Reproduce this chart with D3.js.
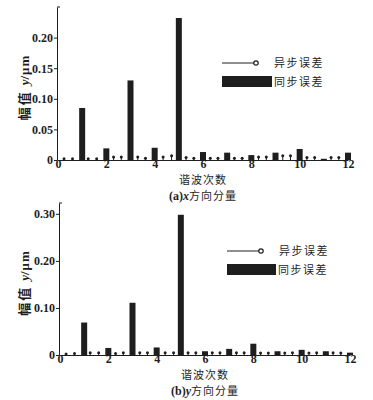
<!DOCTYPE html>
<html>
<head>
<meta charset="utf-8">
<script src="https://cdn.jsdelivr.net/npm/d3@7"></script>
<style>
  html, body { margin: 0; padding: 0; background: #fff; }
  svg { display: block; }
</style>
</head>
<body>
<svg id="chart" width="373" height="400"></svg>
<script>
// 谐波幅值：同步误差（整数次，柱）+ 异步误差（非整数次，火柴杆）

const harmonics = [1, 2, 3, 4, 5, 6, 7, 8, 9, 10, 11, 12];
const syncX = [0.085, 0.019, 0.130, 0.020, 0.232, 0.013, 0.012, 0.008, 0.012, 0.018, 0.002, 0.012];
const syncY = [0.069, 0.015, 0.111, 0.016, 0.298, 0.008, 0.013, 0.024, 0.008, 0.011, 0.008, 0.005];

const asyncOrders = [0.25, 0.6, 1.25, 1.6, 2.3, 2.62, 3.3, 3.62, 4.35, 4.7, 5.3, 5.62,
  6.3, 6.62, 7.3, 7.62, 8.3, 8.62, 9.3, 9.62, 10.3, 10.62, 11.3, 11.62];
const asyncX = [0.002, 0.002, 0.002, 0.002, 0.005, 0.005, 0.005, 0.003, 0.005, 0.007, 0.004, 0.003,
  0.003, 0.003, 0.003, 0.003, 0.005, 0.005, 0.007, 0.007, 0.004, 0.004, 0.004, 0.004];
const asyncY = [0.002, 0.003, 0.005, 0.005, 0.003, 0.005, 0.005, 0.005, 0.005, 0.005, 0.005, 0.005,
  0.005, 0.005, 0.005, 0.005, 0.004, 0.004, 0.004, 0.005, 0.004, 0.005, 0.005, 0.004];

const xTicks = [0, 2, 4, 6, 8, 10, 12];
const yTicksA = [0, 0.05, 0.10, 0.15, 0.20];
const yTicksB = [0, 0.10, 0.20, 0.30];

const INK = '#1e1e1e';
const SERIF = '"Liberation Serif", "DejaVu Serif", serif';
const CJK = '"Noto Sans CJK SC", sans-serif';

const svg = d3.select('#chart');

function fmtTick(v) { return v === 0 ? '0' : v.toFixed(2); }

function panel(o) {
  const x = d3.scaleLinear().domain([0, 12]).range([o.x0, o.x1]);
  const y = d3.scaleLinear().domain([0, o.yMax]).range([o.yBase, o.yTop]);
  const g = svg.append('g');

  // 左轴
  g.append('g').attr('transform', `translate(${o.x0 - 1},0)`)
    .call(d3.axisLeft(y).tickValues(o.yTicks).tickFormat(fmtTick).tickSize(3).tickSizeOuter(0).tickPadding(1))
    .call(a => a.select('.domain').attr('stroke', INK).attr('stroke-width', 1))
    .call(a => a.selectAll('.tick line').attr('stroke', INK))
    .call(a => a.selectAll('text').attr('fill', INK).attr('font-family', SERIF)
      .attr('font-weight', 700).style('font-size', '12px'));
  g.append('line').attr('x1', o.x0 - 1).attr('x2', o.x0 + 2)
    .attr('y1', o.yTop).attr('y2', o.yTop).attr('stroke', INK);

  // 下轴
  g.append('g').attr('transform', `translate(0,${o.yBase})`)
    .call(d3.axisBottom(x).tickValues(xTicks).tickFormat(d3.format('d')).tickSize(0).tickPadding(-1))
    .call(a => a.select('.domain').attr('stroke', INK).attr('stroke-width', 1))
    .call(a => a.selectAll('text').attr('fill', INK).attr('font-family', SERIF)
      .attr('font-weight', 700).style('font-size', '12px'));

  // 同步误差柱
  const bw = 6;
  g.append('g').selectAll('rect').data(harmonics).join('rect')
    .attr('x', (h) => x(h) - bw / 2)
    .attr('y', (h, i) => y(o.sync[i]))
    .attr('width', bw)
    .attr('height', (h, i) => Math.max(1, o.yBase - y(o.sync[i])))
    .attr('fill', INK);

  // 异步误差火柴杆
  const st = g.append('g');
  st.selectAll('line').data(asyncOrders).join('line')
    .attr('x1', (d) => x(d)).attr('x2', (d) => x(d))
    .attr('y1', o.yBase).attr('y2', (d, i) => y(o.async[i]))
    .attr('stroke', INK).attr('stroke-width', 1);
  st.selectAll('circle').data(asyncOrders).join('circle')
    .attr('cx', (d) => x(d)).attr('cy', (d, i) => y(o.async[i]))
    .attr('r', 1.5).attr('fill', INK);

  // 图例
  const lx = o.legX, ly = o.legY;
  g.append('line').attr('x1', lx).attr('x2', lx + 33).attr('y1', ly).attr('y2', ly)
    .attr('stroke', INK).attr('stroke-width', 1);
  g.append('circle').attr('cx', lx + 34).attr('cy', ly).attr('r', 2.2)
    .attr('fill', '#fff').attr('stroke', INK).attr('stroke-width', 1.2);
  g.append('text').attr('x', lx + 52).attr('y', ly + 4).text('异步误差')
    .attr('font-family', CJK).style('font-size', '11px').attr('letter-spacing', '1.5px').attr('fill', INK);
  g.append('rect').attr('x', lx).attr('y', ly + 13).attr('width', o.legW).attr('height', 11).attr('fill', INK);
  g.append('text').attr('x', lx + o.legW + 2).attr('y', ly + 23).text('同步误差')
    .attr('font-family', CJK).style('font-size', '11px').attr('letter-spacing', '1.5px').attr('fill', INK);

  // 纵轴标题
  const yl = g.append('text')
    .attr('transform', `translate(29,${(o.yBase + o.yTop) / 2 + 4}) rotate(-90)`)
    .attr('text-anchor', 'middle').attr('fill', INK).style('font-size', '13px');
  yl.append('tspan').attr('font-family', CJK).attr('font-weight', 700).attr('letter-spacing', '2px').text('幅值 ');
  yl.append('tspan').attr('font-family', SERIF).attr('font-weight', 700).attr('font-style', 'italic').text('y');
  yl.append('tspan').attr('font-family', SERIF).attr('font-weight', 700).attr('letter-spacing', '1px').text('/μm');

  // 横轴标题与分图标题
  const cx = (o.x0 + o.x1) / 2;
  g.append('text').attr('x', cx).attr('y', o.yBase + 23.5).attr('text-anchor', 'middle')
    .attr('font-family', CJK).style('font-size', '11px').attr('letter-spacing', '1px').attr('fill', INK).text('谐波次数');
  const cap = g.append('text').attr('x', cx).attr('y', o.yBase + 39.5).attr('text-anchor', 'middle')
    .attr('fill', INK).style('font-size', '11px');
  cap.append('tspan').attr('font-family', SERIF).attr('font-weight', 700).style('font-size', '12px').text(o.tag);
  cap.append('tspan').attr('font-family', SERIF).attr('font-weight', 700).attr('font-style', 'italic').style('font-size', '12px').text(o.axis);
  cap.append('tspan').attr('font-family', CJK).attr('letter-spacing', '1px').text('方向分量');
}

panel({
  x0: 58, x1: 348, yBase: 160, yTop: 7, yMax: 0.25, yTicks: yTicksA,
  sync: syncX, async: asyncX, legX: 222, legY: 63, legW: 50,
  tag: '(a)', axis: 'x'
});

panel({
  x0: 60, x1: 350, yBase: 355, yTop: 203, yMax: 0.323, yTicks: yTicksB,
  sync: syncY, async: asyncY, legX: 227, legY: 251, legW: 49,
  tag: '(b)', axis: 'y'
});
</script>
</body>
</html>
